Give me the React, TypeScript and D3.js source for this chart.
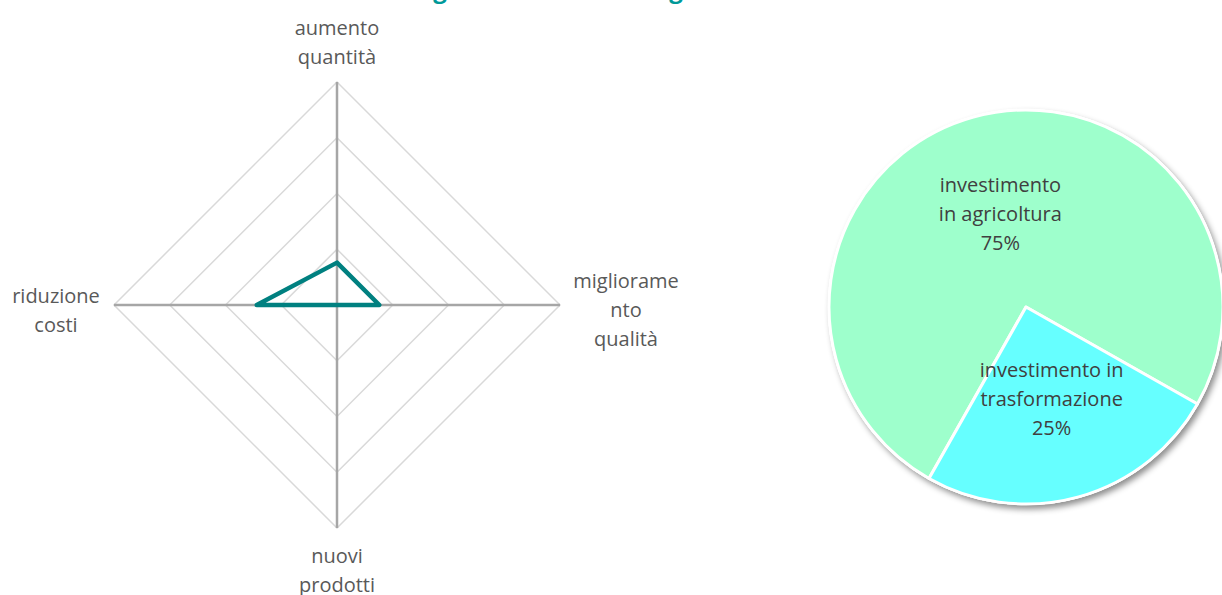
import { useEffect, useRef } from "react";
import * as d3 from "d3";

// radar data (share of answers per objective)
const radarAxes = ["aumento quantità", "miglioramento qualità", "nuovi prodotti", "riduzione costi"];
const radarLabels = [["aumento", "quantità"], ["migliorame", "nto", "qualità"], ["nuovi", "prodotti"], ["riduzione", "costi"]];
const radarValues = [0.19, 0.19, 0, 0.36];
const radarTicks = [0.25, 0.5, 0.75, 1];

// pie data
const pieCategories = ["investimento in agricoltura", "investimento in trasformazione"];
const pieLabels = [["investimento", "in agricoltura", "75%"], ["investimento in", "trasformazione", "25%"]];
const pieValues = [75, 25];
const pieColors = ["#9effcc", "#66ffff"];

const W = 1222, H = 595;
const FONT = "'Open Sans', Lato, sans-serif";

function App() {
    const ref = useRef<SVGSVGElement>(null);

    useEffect(() => {
        const svg = d3.select(ref.current);
        svg.selectAll("*").remove();

        // shadow for the pie
        const defs = svg.append("defs");
        const f = defs.append("filter").attr("id", "shadow")
            .attr("x", "-20%").attr("y", "-20%").attr("width", "140%").attr("height", "140%");
        f.append("feDropShadow").attr("dx", 3).attr("dy", 4).attr("stdDeviation", 3)
            .attr("flood-color", "#000").attr("flood-opacity", 0.45);

        // title (mostly cut off at the top edge)
        const title = svg.append("g").attr("fill", "#009999").attr("font-weight", "bold")
            .attr("font-family", FONT).attr("font-size", 24);
        [440, 676].forEach(x => title.append("text").attr("x", x).attr("y", -2)
            .attr("text-anchor", "middle").text("g"));

        // ---- radar ----
        const cx = 337, cy = 305, R = 223;
        const r = d3.scaleLinear().domain([0, 1]).range([0, R]);
        const angle = d3.scalePoint().domain(radarAxes).range([0, 2 * Math.PI * 3 / 4]);
        const g = svg.append("g").attr("transform", `translate(${cx},${cy})`);

        const ring = d3.lineRadial<string>()
            .angle(d => angle(d)!)
            .curve(d3.curveLinearClosed);

        g.selectAll("path.grid")
            .data(radarTicks)
            .enter()
            .append("path")
            .attr("class", "grid")
            .attr("d", t => ring.radius(r(t))(radarAxes))
            .attr("fill", "none")
            .attr("stroke", "#d9d9d9")
            .attr("stroke-width", 1.5);

        g.selectAll("line.axis")
            .data(radarAxes)
            .enter()
            .append("line")
            .attr("class", "axis")
            .attr("x1", 0).attr("y1", 0)
            .attr("x2", d => r(1) * Math.sin(angle(d)!))
            .attr("y2", d => -r(1) * Math.cos(angle(d)!))
            .attr("stroke", "#a6a6a6")
            .attr("stroke-width", 2.5);

        const dataLine = d3.lineRadial<number>()
            .angle((d, i) => angle(radarAxes[i])!)
            .radius(d => r(d))
            .curve(d3.curveLinearClosed);

        g.append("path")
            .attr("d", dataLine(radarValues))
            .attr("fill", "none")
            .attr("stroke", "#008080")
            .attr("stroke-width", 4.5)
            .attr("stroke-linejoin", "round");

        // axis labels
        const labelPos = [
            {x: 0, y: -270}, // first baseline relative to centre
            {x: 289, y: -17},
            {x: 0, y: 258},
            {x: -281, y: -2},
        ];
        radarLabels.forEach((lines, i) => {
            const t = g.append("text")
                .attr("text-anchor", "middle")
                .attr("font-family", FONT)
                .attr("font-size", 20)
                .attr("fill", "#595959");
            lines.forEach((s, j) => t.append("tspan")
                .attr("x", labelPos[i].x)
                .attr("y", labelPos[i].y + j * 29)
                .text(s));
        });

        // ---- pie ----
        const pcx = 1026, pcy = 307, pr = 197;
        const start = 209.5 * Math.PI / 180;
        const pie = d3.pie<number>().sort(null).startAngle(start).endAngle(start + 2 * Math.PI);
        const arcs = pie(pieValues);
        const arc = d3.arc<d3.PieArcDatum<number>>().innerRadius(0).outerRadius(pr);
        const labelArc = d3.arc<d3.PieArcDatum<number>>().innerRadius(96).outerRadius(96);

        const pg = svg.append("g").attr("transform", `translate(${pcx},${pcy})`);
        pg.append("circle").attr("r", pr + 1).attr("fill", "#fff").attr("filter", "url(#shadow)");
        pg.selectAll("path.slice")
            .data(arcs)
            .enter()
            .append("path")
            .attr("class", "slice")
            .attr("d", arc)
            .attr("fill", (d, i) => pieColors[i])
            .attr("stroke", "#fff")
            .attr("stroke-width", 3)
            .attr("stroke-linejoin", "round");

        pg.selectAll("text.plabel")
            .data(arcs)
            .enter()
            .append("text")
            .attr("class", "plabel")
            .attr("text-anchor", "middle")
            .attr("font-family", FONT)
            .attr("font-size", 20)
            .attr("fill", "#404040")
            .each(function (d, i) {
                const [lx, ly] = labelArc.centroid(d);
                pieLabels[i].forEach((s, j) => d3.select(this).append("tspan")
                    .attr("x", lx)
                    .attr("y", ly + 6 + (j - 1) * 29)
                    .text(s));
            });
    }, []);

    return (
        <svg ref={ref} width={W} height={H}
             style={{position: "absolute", left: 0, top: 0, background: "#fff"}}></svg>
    );
}

export default App;
